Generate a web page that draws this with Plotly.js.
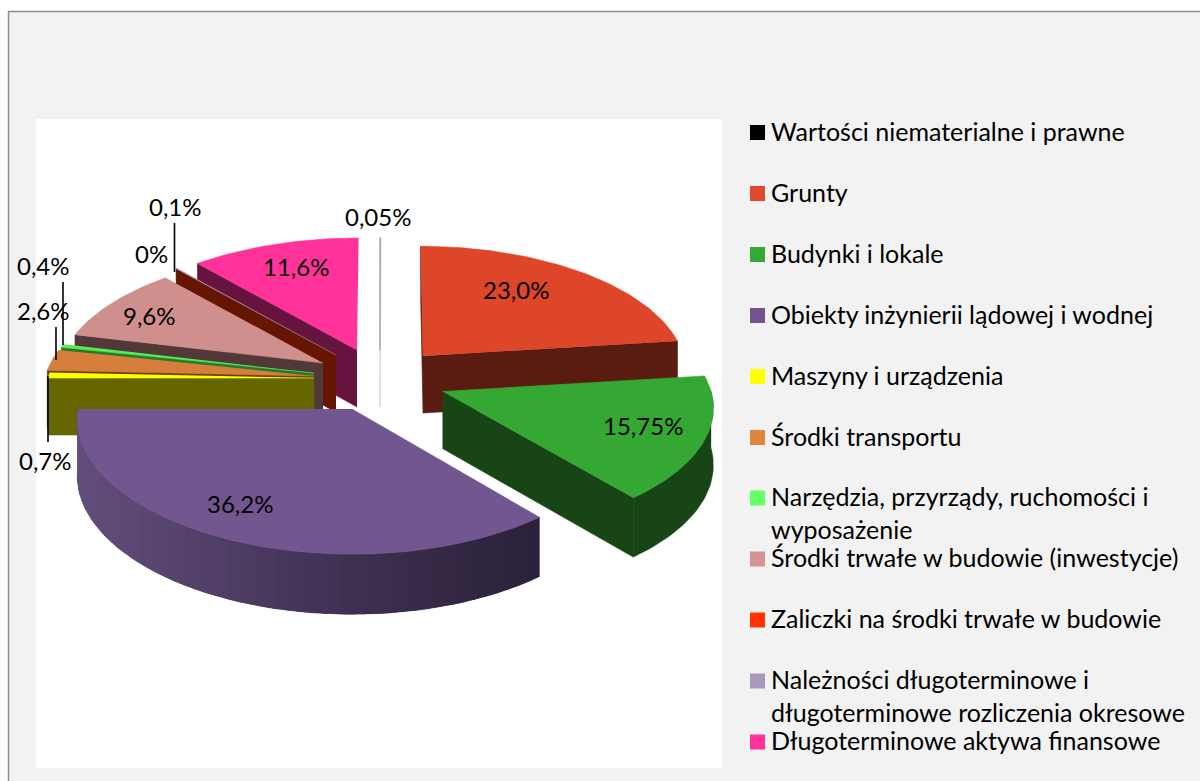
<!DOCTYPE html>
<html><head><meta charset="utf-8">
<script src="https://cdn.plot.ly/plotly-3.0.1.min.js"></script>
<style>html,body{margin:0;padding:0;background:#fff}#c{width:1200px;height:781px}</style>
</head><body><div id="c"></div>
<script>
// ---- data ----
const categories = [
  "Wartości niematerialne i prawne","Grunty","Budynki i lokale",
  "Obiekty inżynierii lądowej i wodnej","Maszyny i urządzenia","Środki transportu",
  "Narzędzia, przyrządy, ruchomości i<br>wyposażenie","Środki trwałe w budowie (inwestycje)",
  "Zaliczki na środki trwałe w budowie",
  "Należności długoterminowe i<br>długoterminowe rozliczenia okresowe",
  "Długoterminowe aktywa finansowe"];
const values = [0.05,23.0,15.75,36.2,0.7,2.6,0.4,9.6,0,0.1,11.6];
const valueLabels = ["0,05%","23,0%","15,75%","36,2%","0,7%","2,6%","0,4%","9,6%","0%","0,1%","11,6%"];
// ---- styling ----
const legendColors = ["#000000","#E04A2C","#36A836","#735490","#FFFF00","#E0853C","#66FF66","#D29593","#FF3300","#A898BC","#FF3399"];
const topColors    = ["#A8A8A8","#DD4628","#35A834","#72568F","#FFFF00","#D67F3C","#55EE55","#CE8F8D","#661600","#A898BC","#FF3399"];
const sideColors   = ["#D4D4D4","#5A1C10","#174515","#4A3A60","#666600","#6A3F1E","#2A782A","#523838","#661600","#661600","#66143F"];
// exploded position of each slice on the drawing
const apexX = [380,423,442.5,352,314,314,314,323,336,336,357];
const apexY = [350,356,391.5,409,378,376,373,363,355,355,350];
const radiusScale = [1.0,0.98,1.01,1.03,1.0,1.01,1.0,0.99,1.0,1.0,1.0];
const frontWiden = [20,20,34,20,20,20,20,20,20,20,20];
const paintOrder = [1,10,0,8,9,7,6,5,4,2,3];
const labelX = [378,516,643,240,45,43,43,149,151,175,296];
const labelY = [216.5,289.5,425.5,503.5,460.5,310.5,265.5,315.5,253.5,206.5,266.5];
const legendRowY = [132.5,193.5,254.5,315.5,376.5,437.5,498,559,620,681,742];
const FONT = "Lato, Carlito, Calibri, sans-serif";
const LABEL_SIZE = 24, LEGEND_SIZE = 25;

// cumulative angles from the values
const total = values.reduce((a,b)=>a+b,0);
const startA = [], endA = [];
values.reduce((acc,v,i)=>{ startA[i]=acc/total*360; endA[i]=(acc+v)/total*360; return acc+v; },0);

function topPoint(i,deg){
  const t=deg*Math.PI/180, c=Math.cos(t), s=Math.sin(t), k=radiusScale[i];
  const rx=(c>0?266-33*c:266-frontWiden[i]*c)*k, ry=(c>0?128-16*c:128-13*c)*k;
  return [apexX[i]+s*rx-0.07*Math.max(c,0)*(apexX[i]-380), apexY[i]-c*ry];
}
const depth = deg => 57-3*Math.cos(deg*Math.PI/180);
function arc(i,a,b){ const o=[]; const steps=Math.max(1,Math.ceil(Math.abs(b-a)/1.5)); for(let j=0;j<=steps;j++){ o.push(a+(b-a)*j/steps);} return o; }
function poly(pts,color,name,lw){
  return {type:"scatter",mode:"lines",x:pts.map(p=>p[0]),y:pts.map(p=>p[1]),fill:"toself",fillcolor:color,
    line:{color:color,width:lw===undefined?0.6:lw},hoverinfo:"text",text:name,showlegend:false};
}
function mix(a,b,f){ return "rgb("+a.map((v,j)=>Math.round(v+(b[j]-v)*f)).join(",")+")"; }

const traces=[];
paintOrder.forEach(i=>{
  const A=startA[i],B=endA[i],ap=[apexX[i],apexY[i]],nm=categories[i];
  const lw=(i===0)?1.4:0.6;
  const drop=(p,deg)=>[p[0],p[1]+depth(deg)];
  // radial side walls facing the viewer
  if(B<180){ const e=topPoint(i,B); traces.push(poly([ap,e,drop(e,B),drop(ap,90)],sideColors[i],nm,lw)); }
  if(A>180){ const e=topPoint(i,A); traces.push(poly([ap,e,drop(e,A),drop(ap,90)],sideColors[i],nm,lw)); }
  // the leaning first edge of Grunty shows a sliver of wall
  if(i===1){ const e=topPoint(i,A); traces.push(poly([ap,e,drop(e,A),drop(ap,90)],sideColors[i],nm)); }
  // outer wall
  const lo=Math.max(A,90), hi=Math.min(B,270);
  if(hi>lo){
    const as=arc(i,lo,hi), upper=as.map(d=>topPoint(i,d)), lower=as.map(d=>drop(topPoint(i,d),d)).reverse();
    traces.push(poly(upper.concat(lower),sideColors[i],nm));
    if(i===3){
      // shaded strips, each overlapping its neighbour
      const step=2.5;
      for(let d=lo;d<hi;d+=step){
        const e=Math.min(d+step+1,hi),p=topPoint(i,d),q=topPoint(i,e);
        const f=(((p[0]+q[0])/2)-78)/(538-78);
        const col=f<0.6?mix([98,78,124],[62,47,80],f/0.6):mix([62,47,80],[42,33,57],(f-0.6)/0.4);
        traces.push({type:"scatter",mode:"lines",x:[p[0],q[0],q[0],p[0]],y:[p[1],q[1],q[1]+depth(e),p[1]+depth(d)],
          fill:"toself",fillcolor:col,line:{width:0,color:col},hoverinfo:"text",text:nm,showlegend:false});
      }
    }
  }
  // top face
  const rim=arc(i,A,B).map(d=>topPoint(i,d));
  if(values[i]>0){ traces.push(poly([ap].concat(rim),topColors[i],nm,lw)); }
});
// legend swatches
traces.push({type:"scatter",mode:"markers",x:legendRowY.map(()=>757.5),y:legendRowY,
  marker:{symbol:"square",size:15,color:legendColors,line:{width:0}},text:categories,hoverinfo:"text",showlegend:false});

const annotations=[];
valueLabels.forEach((t,i)=>annotations.push({x:labelX[i],y:labelY[i],xref:"x",yref:"y",text:t,showarrow:false,
  xanchor:"center",yanchor:"middle",font:{family:FONT,size:LABEL_SIZE,color:"#000"}}));
categories.forEach((t,i)=>annotations.push({x:770,y:legendRowY[i]-18,xref:"x",yref:"y",text:t,showarrow:false,align:"left",
  xanchor:"left",yanchor:"top",borderpad:0,font:{family:FONT,size:LEGEND_SIZE,color:"#000"}}));

const leader=(x0,y0,x1,y1)=>({type:"line",xref:"x",yref:"y",x0,y0,x1,y1,layer:"above",line:{color:"#000",width:1.6}});
const shapes=[
  {type:"rect",xref:"x",yref:"y",x0:8.5,y0:11.5,x1:1210,y1:800,layer:"below",fillcolor:"#F2F2F2",line:{color:"#8C8C8C",width:1.5}},
  {type:"rect",xref:"x",yref:"y",x0:36,y0:119,x1:722,y1:768,layer:"below",fillcolor:"#FFFFFF",line:{width:0}},
  leader(174.5,223,174.5,272),leader(63,282,63,345),leader(56,327,56,360),leader(48,376,48,442)
];
const ax={range:[0,1200],visible:false,fixedrange:true};
const layout={width:1200,height:781,margin:{l:0,r:0,t:0,b:0},paper_bgcolor:"#fff",plot_bgcolor:"rgba(0,0,0,0)",
  xaxis:Object.assign({},ax),yaxis:Object.assign({},ax,{range:[781,0]}),shapes,annotations,showlegend:false};
Plotly.newPlot("c",traces,layout,{displayModeBar:false,staticPlot:true});
</script></body></html>
